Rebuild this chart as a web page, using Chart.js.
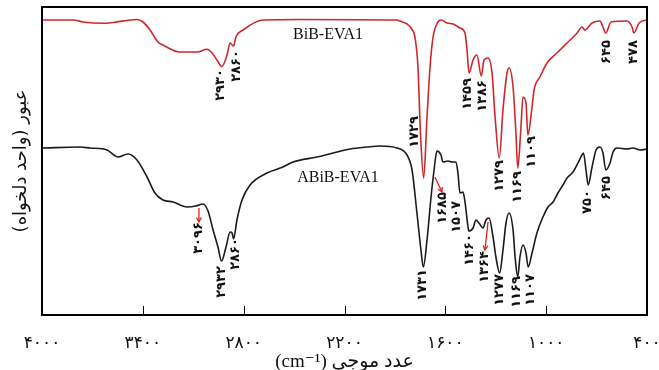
<!DOCTYPE html>
<html><head><meta charset="utf-8">
<script src="https://cdn.jsdelivr.net/npm/chart.js@4.4.1/dist/chart.umd.min.js"></script>
<style>html,body{margin:0;padding:0;background:#fff}canvas{display:block}</style>
</head><body>
<canvas id="c" width="659" height="370"></canvas>
<script>
// Wavenumbers (cm-1) and transmission (arbitrary units)
const redWn = [4000,3816,3756,3637,3577,3435,3399,3357,3310,3280,3179,3078,3018,2988,2959,2930,2899,2881,2860,2846,2804,2685,2465,1888,1870,1828,1804,1780,1763,1748,1729,1709,1691,1673,1644,1626,1590,1554,1513,1483,1471,1459,1435,1412,1386,1370,1346,1322,1304,1279,1257,1233,1221,1197,1180,1169,1150,1138,1120,1109,1084,1072,1037,995,936,876,816,787,769,727,680,662,645,614,519,489,478,447,400];
const redT  = [295,295,293,291.7,292.5,295.5,293,285,273,270,263,263,265.7,262,255,248.3,260,272,269,278,285,295,295.5,295,294,291,287,277,248,182,137,198,248,278,293,295,292,291,287,282,265,242,255,260,239,255,257,242,198,157,205,242,247,228,182,147,188,218,212,180,208,225,238,252,262,272,282,288,285,292,294,288,282,293,294,288,282,292,295];
const blackWn = [4000,3774,3714,3613,3548,3488,3435,3375,3328,3280,3220,3137,3084,3042,3012,2982,2953,2932,2905,2881,2869,2860,2840,2810,2762,2661,2566,2506,2364,2268,2167,2066,1989,1888,1828,1798,1769,1745,1731,1709,1685,1667,1650,1626,1614,1584,1560,1537,1525,1513,1495,1483,1465,1460,1435,1418,1400,1376,1358,1340,1316,1299,1277,1257,1239,1221,1197,1185,1169,1156,1138,1120,1107,1084,1055,1019,989,959,930,900,876,840,811,787,778,763,750,727,703,680,662,645,620,602,579,519,483,441,400];
const blackT  = [167,168,167,165,158,161,155,138,122,115,113,108,109,111,104,85,68,54,68,83,82,76,95,115,130,142,148,153,158,162,166,168,169,167,160,145,102,65,48,75,118,145,164,160,153,154,153,153,142,122,123,113,88,84,87,95,92,87,95,97,78,58,42,65,92,102,85,58,38,58,70,62,48,62,82,98,108,113,122,130,137,143,152,160,162,145,130,148,165,168,162,145,152,163,167,166,167,165,166];
const xTicks = [4000,3400,2800,2200,1600,1000,400];
const seriesNames = ['BiB-EVA1','ABiB-EVA1'];
const xTitle = '(cm\u207B\u00B9) عدد موجی';
const yTitle = 'عبور (واحد دلخواه)\u200F';
// Peak labels: [label text, label centre wavenumber, label centre T]
const redPeaks   = [['2930',2935,230],['2860',2840,249],['1729',1780,183],['1459',1465,221],['1386',1376,219],['1279',1275,139],['1169',1168,128],['1109',1084,163],['645',638,263],['478',477,263]];
const blackPeaks = [['3096',3066,77],['2932',2929,33],['2860',2846,61],['1731',1733,30],['1685',1614,107],['1507',1531,98],['1460',1453,65],['1364',1364,48],['1277',1275,25],['1169',1174,23],['1107',1090,25],['750',751,113],['645',638,127]];
const arrows = [[3066,107,3066,93],[1662,138,1620,123],[1346,93,1364,65]];
const seriesLabelPos = [[2298,280],[2239,137]];

const fa = s => String(s).replace(/\d/g, d => '۰۱۲۳۴۵۶۷۸۹'[d]);
const RED = '#d0262b', BLACK = '#1b1b1b';

const overlay = {
  id:'overlay',
  afterDatasetsDraw(chart){
    const {ctx, chartArea:a, scales:{x,y}} = chart;
    ctx.save();
    ctx.strokeStyle = '#000'; ctx.lineWidth = 2;
    ctx.strokeRect(a.left, a.top, a.right - a.left, a.bottom - a.top);
    ctx.lineWidth = 1;
    xTicks.forEach(v => {
      const px = Math.round(x.getPixelForValue(v)) + 0.5;
      ctx.beginPath(); ctx.moveTo(px, a.bottom); ctx.lineTo(px, a.bottom - 9); ctx.stroke();
    });
    ctx.fillStyle = '#111'; ctx.font = '16px "Liberation Serif"';
    ctx.textAlign = 'center'; ctx.textBaseline = 'middle';
    seriesNames.forEach((n,i) => ctx.fillText(n, x.getPixelForValue(seriesLabelPos[i][0]), y.getPixelForValue(seriesLabelPos[i][1])));
    ctx.font = 'bold 13px "DejaVu Sans"';
    [...redPeaks, ...blackPeaks].forEach(p => {
      ctx.save();
      ctx.translate(x.getPixelForValue(p[1]), y.getPixelForValue(p[2]));
      ctx.rotate(-Math.PI/2);
      ctx.fillStyle = '#111';
      ctx.fillText(fa(p[0]), 0, 0);
      ctx.restore();
    });
    ctx.strokeStyle = '#e0201c'; ctx.lineWidth = 1.3;
    arrows.forEach(r => {
      const x1 = x.getPixelForValue(r[0]), y1 = y.getPixelForValue(r[1]);
      const x2 = x.getPixelForValue(r[2]), y2 = y.getPixelForValue(r[3]);
      const ang = Math.atan2(y2 - y1, x2 - x1);
      ctx.beginPath(); ctx.moveTo(x1, y1); ctx.lineTo(x2, y2); ctx.stroke();
      ctx.beginPath();
      ctx.moveTo(x2 - 5*Math.cos(ang - 0.5), y2 - 5*Math.sin(ang - 0.5));
      ctx.lineTo(x2, y2);
      ctx.lineTo(x2 - 5*Math.cos(ang + 0.5), y2 - 5*Math.sin(ang + 0.5));
      ctx.stroke();
    });
    ctx.restore();
  }
};

new Chart(document.getElementById('c'), {
  type: 'line',
  data: {
    datasets: [
      {label: seriesNames[0], data: redWn.map((w,i) => ({x:w, y:redT[i]})), borderColor: RED, borderWidth: 1.6, pointRadius: 0, cubicInterpolationMode: 'monotone'},
      {label: seriesNames[1], data: blackWn.map((w,i) => ({x:w, y:blackT[i]})), borderColor: BLACK, borderWidth: 1.6, pointRadius: 0, cubicInterpolationMode: 'monotone'}
    ]
  },
  options: {
    responsive: false, animation: false,
    layout: {autoPadding: false, padding: {top: 7, right: 12, left: 0, bottom: 0}},
    plugins: {legend: {display: false}, tooltip: {enabled: false}},
    scales: {
      x: {
        type: 'linear', reverse: true, min: 400, max: 4000,
        afterBuildTicks: s => { s.ticks = xTicks.map(v => ({value: v})); },
        ticks: {callback: v => fa(v), font: {family: 'DejaVu Sans', size: 17}, color: '#111', padding: 10, maxRotation: 0, autoSkip: false},
        grid: {display: false}, border: {display: false},
        title: {display: true, text: xTitle, font: {family: '"Liberation Serif", "DejaVu Sans"', size: 19}, color: '#111', padding: {top: 0, bottom: -3}},
        afterFit: s => { s.height = 55; s.paddingLeft = 0; s.paddingRight = 0; }
      },
      y: {
        min: 0, max: 308,
        ticks: {display: false}, grid: {display: false}, border: {display: false},
        title: {display: true, text: yTitle, font: {family: 'DejaVu Sans', size: 18}, color: '#111', padding: {top: 11, bottom: 0}},
        afterFit: s => { s.width = 42; }
      }
    }
  },
  plugins: [overlay]
});
</script>
</body></html>
